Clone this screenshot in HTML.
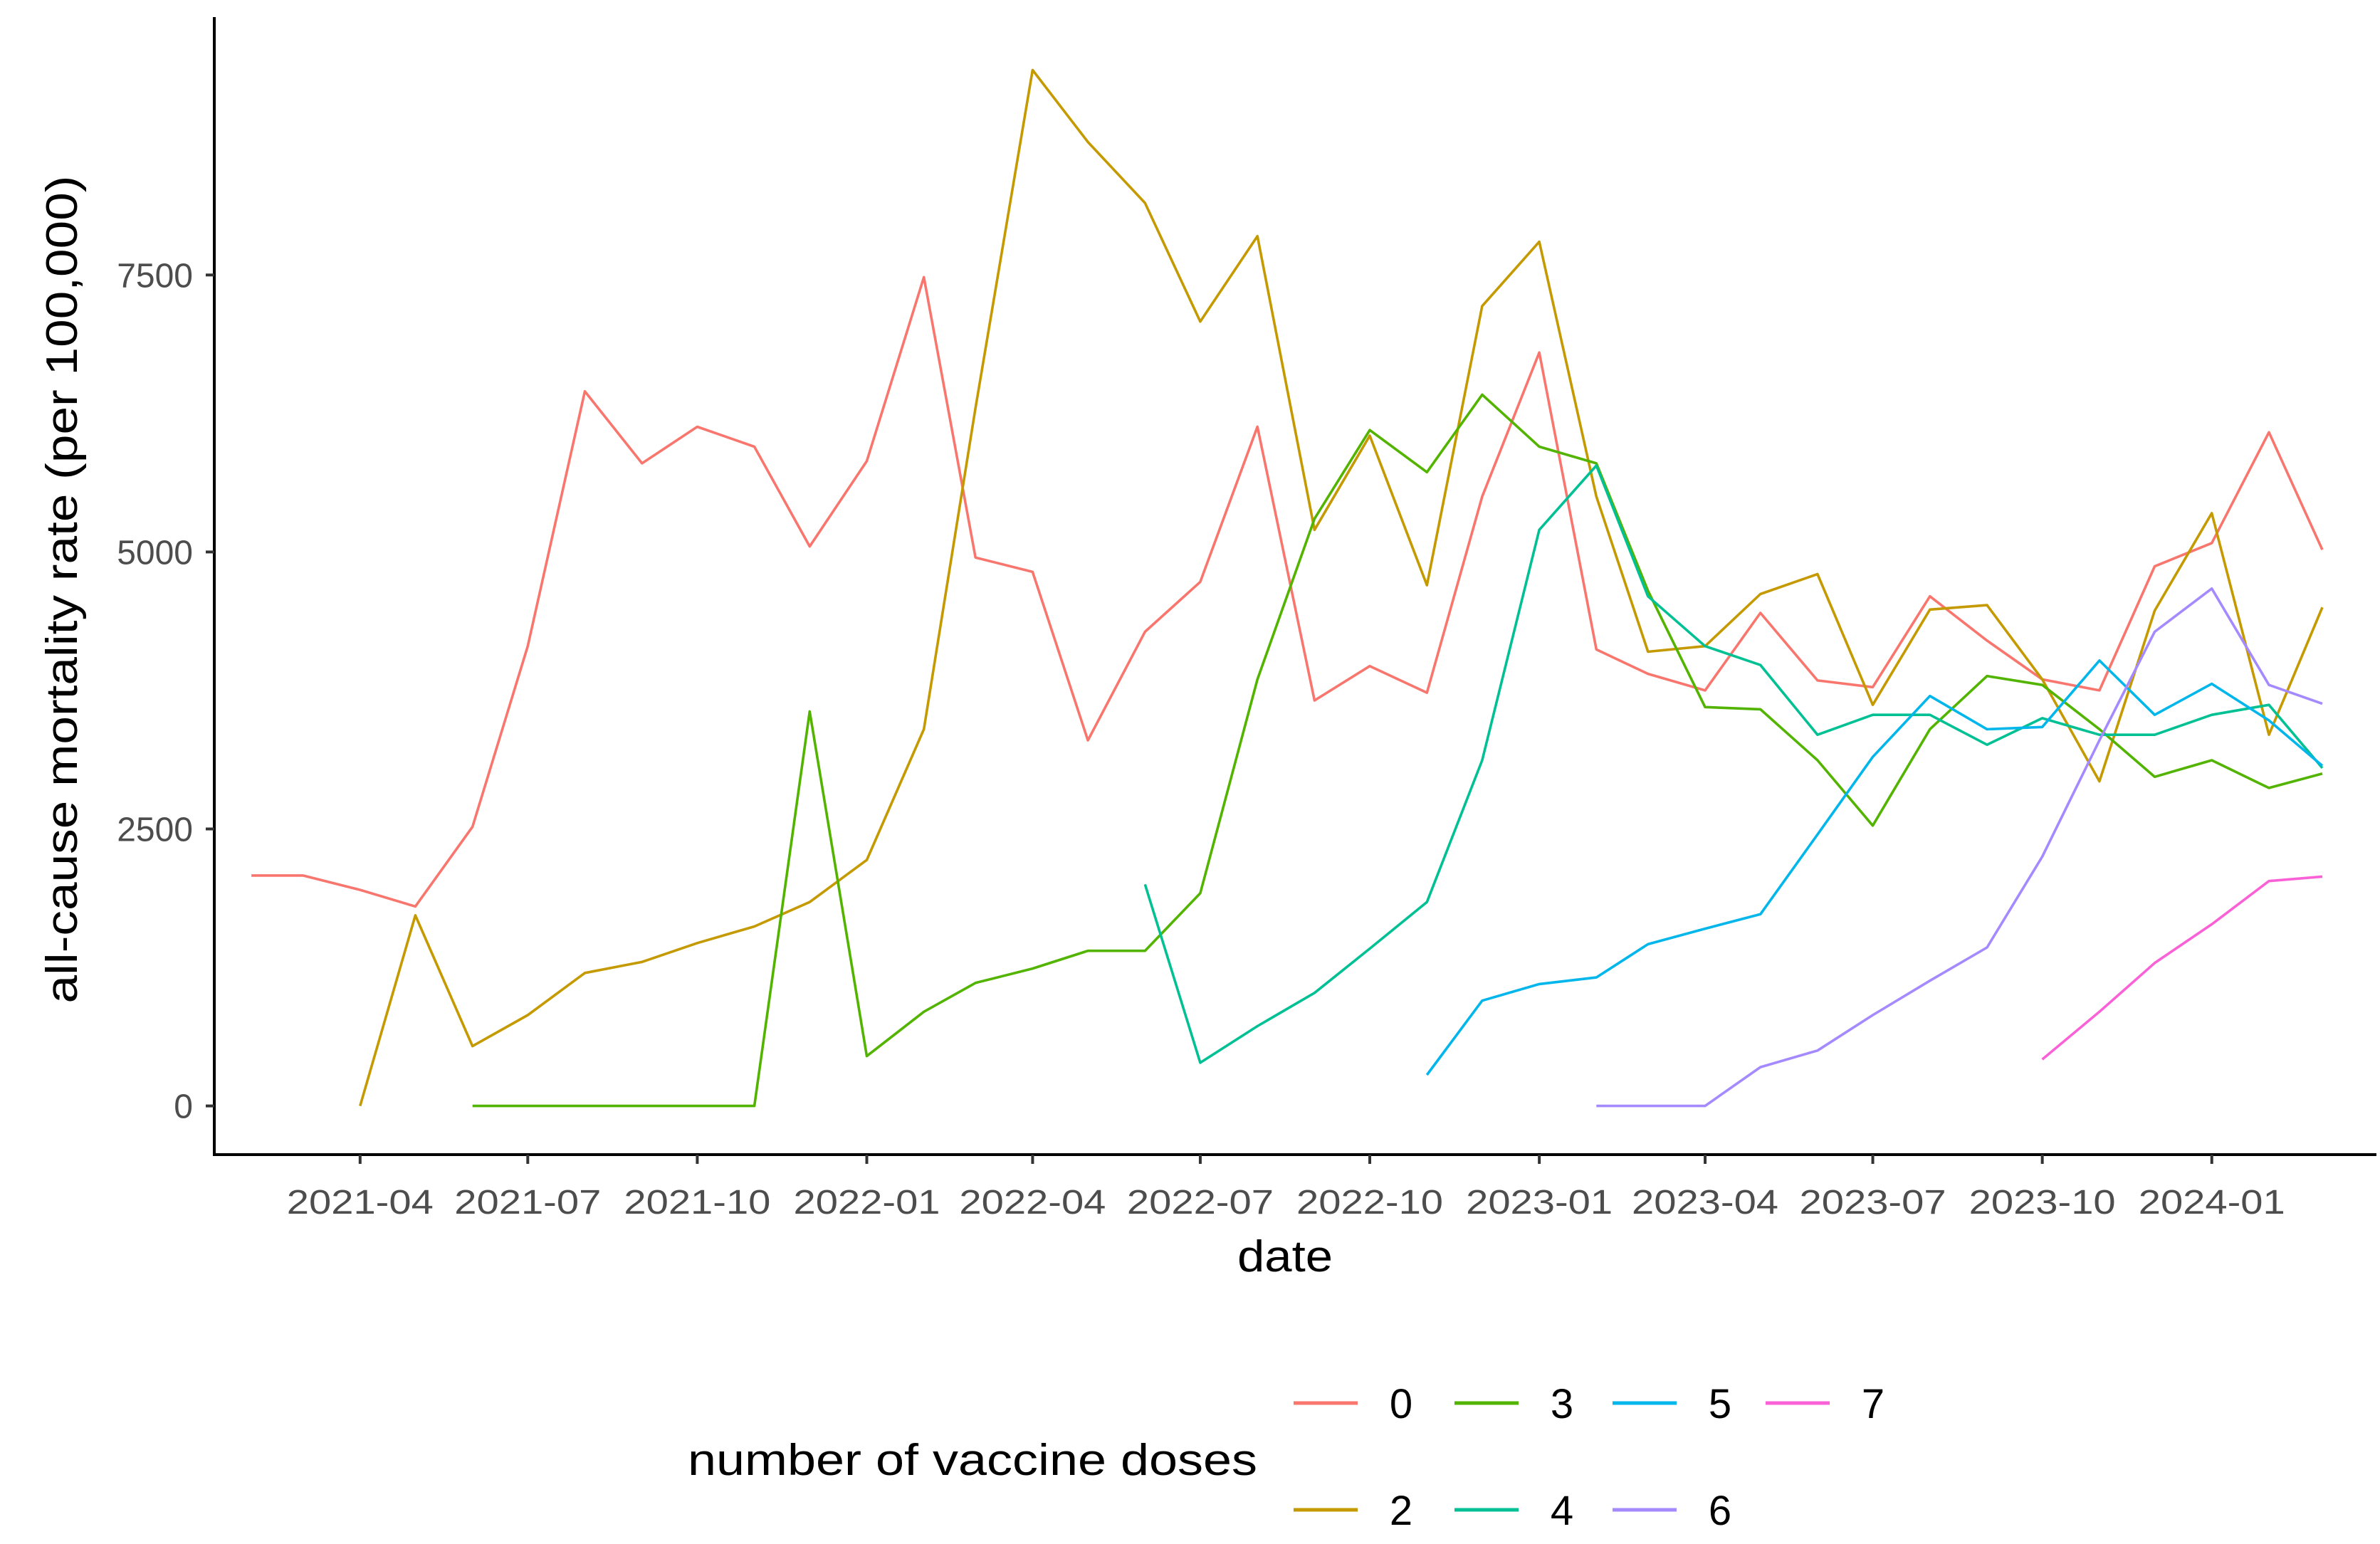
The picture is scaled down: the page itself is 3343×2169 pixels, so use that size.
<!DOCTYPE html>
<html><head><meta charset="utf-8"><style>
html,body{margin:0;padding:0;background:#fff;}
svg{display:block;font-family:"Liberation Sans",Arial,sans-serif;}
</style></head><body>
<svg id="chart" width="3343" height="2169" viewBox="0 0 3343 2169" xmlns="http://www.w3.org/2000/svg">
<rect width="3343" height="2169" fill="#fff"/>
<g id="plot"></g>
<line x1="301" y1="24" x2="301" y2="1624" stroke="#000" stroke-width="4"/>
<line x1="299" y1="1622" x2="3338" y2="1622" stroke="#000" stroke-width="4"/>
<g id="axes"></g>
<text x="1805" y="1786" font-size="62" text-anchor="middle" textLength="134" lengthAdjust="spacingAndGlyphs" fill="#000">date</text>
<text transform="translate(108,828) rotate(-90)" font-size="62" text-anchor="middle" textLength="1163" lengthAdjust="spacingAndGlyphs" fill="#000">all-cause mortality rate (per 100,000)</text>
<text x="966" y="2072" font-size="62" textLength="800" lengthAdjust="spacingAndGlyphs" fill="#000">number of vaccine doses</text>
<g id="legend"></g>
</svg>
<script>
const doses = ["0","2","3","4","5","6","7"];
const colors = ["#F8766D","#C49A00","#53B400","#00C094","#00B6EB","#A58AFF","#FB61D7"];
const startMonths = ["2021-02","2021-04","2021-06","2022-06","2022-11","2023-02","2023-10"];
const s0 = [2080,2080,1950,1800,2520,4150,6450,5800,6130,5950,5050,5820,7480,4950,4820,3300,4280,4730,6130,3660,3970,3730,5500,6800,4120,3900,3750,4450,3840,3780,4600,4200,3850,3750,4870,5080,6080,5020];
const s2 = [0,1720,540,820,1200,1300,1470,1620,1840,2220,3400,6300,9350,8700,8150,7080,7850,5200,6050,4700,7220,7800,5500,4100,4150,4620,4800,3620,4480,4520,3850,2930,4470,5350,3350,4500];
const s3 = [0,0,0,0,0,0,3560,450,850,1110,1240,1400,1400,1920,3850,5300,6100,5720,6420,5950,5800,4650,3600,3580,3120,2530,3400,3880,3800,3400,2970,3120,2870,3000];
const s4 = [2000,390,720,1020,1420,1840,3120,5200,5780,4600,4150,3980,3350,3530,3530,3260,3500,3350,3350,3530,3620,3050];
const s5 = [280,950,1100,1160,1460,1600,1730,2450,3150,3700,3400,3420,4020,3530,3810,3480,3070];
const s6 = [0,0,0,350,500,820,1130,1430,2250,3300,4280,4670,3800,3630];
const s7 = [420,850,1290,1640,2030,2070];
const yTicks = [0,2500,5000,7500];
const xTicks = ["2021-04","2021-07","2021-10","2022-01","2022-04","2022-07","2022-10","2023-01","2023-04","2023-07","2023-10","2024-01"];

const NS="http://www.w3.org/2000/svg";
const series=[s0,s2,s3,s4,s5,s6,s7];
const dayMs=86400000;
const refDate=Date.UTC(2021,3,1);
function xScale(ym){const [y,m]=ym.split("-").map(Number);return 505.8+((Date.UTC(y,m-1,1)-refDate)/dayMs)*2.588;}
function yScale(v){return 1553.6-v*0.15564;}
function addMonths(ym,k){let [y,m]=ym.split("-").map(Number);let t=(y*12+m-1)+k;return Math.floor(t/12)+"-"+String(t%12+1).padStart(2,"0");}

const plot=document.getElementById("plot");
series.forEach((vals,i)=>{
  const pts=vals.map((v,j)=>xScale(addMonths(startMonths[i],j)).toFixed(1)+","+yScale(v).toFixed(1)).join(" ");
  const pl=document.createElementNS(NS,"polyline");
  pl.setAttribute("points",pts);
  pl.setAttribute("fill","none");
  pl.setAttribute("stroke",colors[i]);
  pl.setAttribute("stroke-width","3.6");
  pl.setAttribute("stroke-linejoin","round");
  
  
  plot.appendChild(pl);
});

const axes=document.getElementById("axes");
yTicks.forEach(v=>{
  const y=yScale(v);
  const l=document.createElementNS(NS,"line");
  l.setAttribute("x1",289);l.setAttribute("x2",301);l.setAttribute("y1",y);l.setAttribute("y2",y);
  l.setAttribute("stroke","#333");l.setAttribute("stroke-width","4");
  
  
  axes.appendChild(l);
  const t=document.createElementNS(NS,"text");
  t.setAttribute("x",271);t.setAttribute("y",y+17);
  t.setAttribute("text-anchor","end");t.setAttribute("font-size","48");t.setAttribute("fill","#4d4d4d");
  t.textContent=String(v);
  
  
  axes.appendChild(t);
});
xTicks.forEach(d=>{
  const x=xScale(d);
  const l=document.createElementNS(NS,"line");
  l.setAttribute("x1",x);l.setAttribute("x2",x);l.setAttribute("y1",1622);l.setAttribute("y2",1635);
  l.setAttribute("stroke","#333");l.setAttribute("stroke-width","4");
  
  
  axes.appendChild(l);
  const t=document.createElementNS(NS,"text");
  t.setAttribute("x",x);t.setAttribute("y",1705);
  t.setAttribute("text-anchor","middle");t.setAttribute("font-size","48");t.setAttribute("fill","#4d4d4d");
  t.setAttribute("textLength","206");t.setAttribute("lengthAdjust","spacingAndGlyphs");
  t.textContent=d;
  
  
  axes.appendChild(t);
});

const legend=document.getElementById("legend");
const legPos=[[0,0],[0,1],[1,0],[1,1],[2,0],[2,1],[3,0]];
const colX=[1817,2043,2265,2480];
const rowY=[1971,2121];
doses.forEach((d,i)=>{
  const [c,r]=legPos[i];
  const g=document.createElementNS(NS,"g");
  
  
  const l=document.createElementNS(NS,"line");
  l.setAttribute("x1",colX[c]);l.setAttribute("x2",colX[c]+90);
  l.setAttribute("y1",rowY[r]);l.setAttribute("y2",rowY[r]);
  l.setAttribute("stroke",colors[i]);l.setAttribute("stroke-width","5");
  g.appendChild(l);
  const t=document.createElementNS(NS,"text");
  t.setAttribute("x",colX[c]+151);t.setAttribute("y",rowY[r]+21);
  t.setAttribute("text-anchor","middle");t.setAttribute("font-size","58");t.setAttribute("fill","#000");
  t.textContent=d;
  g.appendChild(t);
  legend.appendChild(g);
});
</script>
</body></html>
